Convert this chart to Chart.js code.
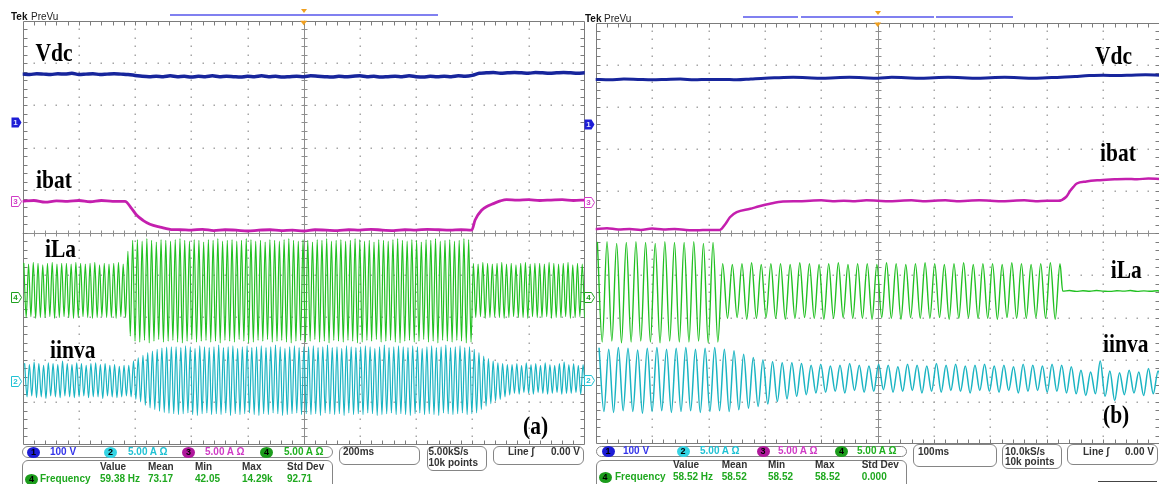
<!DOCTYPE html>
<html>
<head>
<meta charset="utf-8">
<title>Oscilloscope waveforms (a) and (b)</title>
<script src="https://cdn.jsdelivr.net/npm/chart.js@4.4.1/dist/chart.umd.min.js"></script>
<style>
html,body{margin:0;padding:0;background:#fff;}
body{position:relative;width:1159px;height:484px;overflow:hidden;font-family:"Liberation Sans",Arial,sans-serif;}
canvas{position:absolute;top:0;}
#ca{left:0;}
#cb{left:580px;}
.lab{position:absolute;white-space:nowrap;font-family:"Liberation Serif","Times New Roman",serif;font-weight:bold;font-size:21.5px;line-height:1;transform:scaleY(1.15);transform-origin:0 0;color:#000;}
.tek{position:absolute;font:bold 10px/1 "Liberation Sans",sans-serif;color:#111;}
.prevu{position:absolute;font:10px/1 "Liberation Sans",sans-serif;color:#222;}
.bar{position:absolute;height:1.5px;background:#8080f0;}
.box{position:absolute;border:1px solid #858585;border-radius:6px;box-sizing:border-box;}
.s{position:absolute;white-space:nowrap;font:bold 10px/12px "Liberation Sans",sans-serif;color:#333;}
.c{position:absolute;width:13px;height:11px;border-radius:50%;font:bold 9px/11px "Liberation Sans",sans-serif;text-align:center;color:#000;}
.tri{position:absolute;width:0;height:0;border-left:3px solid transparent;border-right:3px solid transparent;border-top:4px solid #f0a020;}
</style>
</head>
<body>
<canvas id="ca" width="600" height="484"></canvas>
<canvas id="cb" width="600" height="484"></canvas>

<!-- header (a) -->
<div class="tek" style="left:11px;top:11.5px">Tek</div>
<div class="prevu" style="left:31px;top:11.5px">PreVu</div>
<div class="bar" style="left:170px;top:14px;width:268px"></div>
<div class="tri" style="left:300.7px;top:9px"></div>
<!-- header (b) -->
<div class="tek" style="left:585px;top:13.5px">Tek</div>
<div class="prevu" style="left:604px;top:13.5px">PreVu</div>
<div class="bar" style="left:743px;top:16px;width:55px"></div>
<div class="bar" style="left:800.7px;top:16px;width:133.3px"></div>
<div class="bar" style="left:936px;top:16px;width:76.7px"></div>
<div class="tri" style="left:874.7px;top:11px"></div>

<!-- trace labels (a) -->
<div class="lab" style="left:35.5px;top:41px">Vdc</div>
<div class="lab" style="left:36px;top:167.5px">ibat</div>
<div class="lab" style="left:45px;top:236.5px">iLa</div>
<div class="lab" style="left:50px;top:337.5px">iinva</div>
<div class="lab" style="left:523px;top:413.5px">(a)</div>
<!-- trace labels (b) -->
<div class="lab" style="left:1095px;top:43.5px">Vdc</div>
<div class="lab" style="left:1100px;top:141px">ibat</div>
<div class="lab" style="left:1110.7px;top:257.5px">iLa</div>
<div class="lab" style="left:1103px;top:331.5px">iinva</div>
<div class="lab" style="left:1103px;top:403px">(b)</div>

<!-- status bar (a) -->
<div class="box" style="left:22px;top:446px;width:311px;height:12px;border-radius:7px"></div>
<div class="c" style="left:27px;top:446.5px;background:#1d1dd6">1</div>
<span class="s" style="left:50px;top:445.7px;color:#3434ea">100 V</span>
<div class="c" style="left:104px;top:446.5px;background:#35d4e4">2</div>
<span class="s" style="left:128px;top:445.7px;color:#20c2d4">5.00 A Ω</span>
<div class="c" style="left:182px;top:446.5px;background:#b0189c">3</div>
<span class="s" style="left:205px;top:445.7px;color:#d03cc6">5.00 A Ω</span>
<div class="c" style="left:260px;top:446.5px;background:#1c9c1c">4</div>
<span class="s" style="left:284px;top:445.7px;color:#20b020">5.00 A Ω</span>
<div class="box" style="left:22px;top:460px;width:311px;height:34px"></div>
<span class="s" style="left:100px;top:460.7px">Value</span>
<span class="s" style="left:148px;top:460.7px">Mean</span>
<span class="s" style="left:195px;top:460.7px">Min</span>
<span class="s" style="left:242px;top:460.7px">Max</span>
<span class="s" style="left:287px;top:460.7px">Std Dev</span>
<div class="c" style="left:25px;top:473.5px;background:#1c9c1c">4</div>
<span class="s" style="left:40px;top:473px;color:#1fa81f">Frequency</span>
<span class="s" style="left:100px;top:473px;color:#1fa81f">59.38 Hz</span>
<span class="s" style="left:148px;top:473px;color:#1fa81f">73.17</span>
<span class="s" style="left:195px;top:473px;color:#1fa81f">42.05</span>
<span class="s" style="left:242px;top:473px;color:#1fa81f">14.29k</span>
<span class="s" style="left:287px;top:473px;color:#1fa81f">92.71</span>
<div class="box" style="left:339px;top:446px;width:81px;height:19px"></div>
<span class="s" style="left:343px;top:445.7px">200ms</span>
<div class="box" style="left:426.5px;top:446px;width:60px;height:25px"></div>
<span class="s" style="left:428.5px;top:446px">5.00kS/s</span>
<span class="s" style="left:428.5px;top:457.3px">10k points</span>
<div class="box" style="left:492.5px;top:446px;width:91px;height:19px"></div>
<span class="s" style="left:508px;top:445.7px">Line</span>
<span class="s" style="left:531px;top:445.7px">ʃ</span>
<span class="s" style="left:551px;top:445.7px">0.00 V</span>

<!-- status bar (b) -->
<div class="box" style="left:596px;top:446px;width:311px;height:11px;border-radius:7px"></div>
<div class="c" style="left:601.5px;top:446px;background:#1d1dd6">1</div>
<span class="s" style="left:623px;top:445.2px;color:#3434ea">100 V</span>
<div class="c" style="left:676.5px;top:446px;background:#35d4e4">2</div>
<span class="s" style="left:700px;top:445.2px;color:#20c2d4">5.00 A Ω</span>
<div class="c" style="left:756.5px;top:446px;background:#b0189c">3</div>
<span class="s" style="left:778px;top:445.2px;color:#d03cc6">5.00 A Ω</span>
<div class="c" style="left:835px;top:446px;background:#1c9c1c">4</div>
<span class="s" style="left:857px;top:445.2px;color:#20b020">5.00 A Ω</span>
<div class="box" style="left:596px;top:459.5px;width:311px;height:34px"></div>
<span class="s" style="left:673px;top:459px">Value</span>
<span class="s" style="left:721.7px;top:459px">Mean</span>
<span class="s" style="left:768px;top:459px">Min</span>
<span class="s" style="left:815px;top:459px">Max</span>
<span class="s" style="left:861.7px;top:459px">Std Dev</span>
<div class="c" style="left:598.5px;top:471.8px;background:#1c9c1c">4</div>
<span class="s" style="left:615px;top:471.3px;color:#1fa81f">Frequency</span>
<span class="s" style="left:673px;top:471.3px;color:#1fa81f">58.52 Hz</span>
<span class="s" style="left:721.7px;top:471.3px;color:#1fa81f">58.52</span>
<span class="s" style="left:768px;top:471.3px;color:#1fa81f">58.52</span>
<span class="s" style="left:815px;top:471.3px;color:#1fa81f">58.52</span>
<span class="s" style="left:861.7px;top:471.3px;color:#1fa81f">0.000</span>
<div class="box" style="left:913px;top:444px;width:84px;height:23px"></div>
<span class="s" style="left:918px;top:445.7px">100ms</span>
<div class="box" style="left:1001.7px;top:444px;width:60px;height:25px"></div>
<span class="s" style="left:1005px;top:445.7px">10.0kS/s</span>
<span class="s" style="left:1005px;top:455.7px">10k points</span>
<div class="box" style="left:1066.7px;top:444px;width:91px;height:21px"></div>
<span class="s" style="left:1083px;top:445.7px">Line</span>
<span class="s" style="left:1106px;top:445.7px">ʃ</span>
<span class="s" style="left:1125px;top:445.7px">0.00 V</span>
<div style="position:absolute;left:1098px;top:481px;width:59px;height:1px;background:#444"></div>

<script>
// ================= DATA =================
// Time axes in ms, trigger at 0
const timeRangeA = [-1000, 1000];   // 200 ms/div
const timeRangeB = [-500, 500];     // 100 ms/div
// Frequency readouts (Hz)
const freqA = 59.38;
const freqB = 58.52;

// Channel settings: screen position (div from centre) and volts/amps per div
const chPos   = {vdc: 2.6, ibat: 0.74, iLa: -1.52, iinva: -3.49};
const chScale = {vdc: 100, ibat: 5, iLa: 5, iinva: 5};

// ---- panel (a) ----
// Vdc (V), one value every 25 ms from -1000 ms
const vdcA = [
  114,113,115,114,113,115,114,116,113,114,
  115,113,114,115,114,113,111,109,108,109,
  108,110,108,109,107,109,108,110,108,109,
  108,107,109,108,110,108,109,107,108,109,
  108,110,109,108,107,109,108,109,110,108,
  109,107,108,109,108,110,108,107,109,108,
  109,108,110,109,111,116,117,118,116,117,
  118,117,116,118,117,116,117,118,117,116,
  117
];
// ibat (A): [t ms, value]
const ibatA = [
  [-1000,0.0],[-960,0.1],[-920,-0.1],[-880,0.05],[-840,0.0],[-800,0.1],[-760,-0.05],[-720,0.1],[-680,0.0],
  [-636,0.0],[-612,-0.86],[-594,-1.65],[-572,-2.24],[-547,-2.7],[-511,-3.03],[-465,-3.34],
  [-440,-3.35],[-400,-3.4],[-360,-3.3],[-320,-3.45],[-280,-3.35],[-240,-3.4],[-200,-3.5],[-160,-3.4],
  [-120,-3.35],[-80,-3.45],[-40,-3.4],[0,-3.5],[40,-3.35],[80,-3.4],[120,-3.45],[160,-3.35],[200,-3.4],
  [240,-3.3],[280,-3.4],[320,-3.45],[360,-3.35],[400,-3.4],[440,-3.3],[480,-3.35],[520,-3.4],[560,-3.35],
  [598,-3.4],[610,-2.2],[633,-1.06],[655,-0.55],[675,-0.27],[700,0.05],[722,0.2],
  [760,0.15],[800,0.2],[840,0.1],[880,0.15],[920,0.2],[960,0.1],[1000,0.15]
];
// iLa (A): positive and negative peak of each cycle
const iLaA_hi = [
  4.0,3.9,4.1,4.0,3.8,4.0,4.1,3.9,4.0,4.0,
  3.9,4.1,4.0,3.9,4.0,4.1,3.8,4.0,3.9,4.0,
  4.1,3.9,5.4,6.7,6.8,6.6,6.9,6.7,6.5,6.8,
  6.7,6.6,6.8,6.9,6.7,6.6,6.8,6.7,6.5,6.8,
  6.7,6.9,6.6,6.7,6.8,6.6,6.7,6.9,6.8,6.6,
  6.7,6.5,6.8,6.7,6.6,6.8,6.9,6.7,6.6,6.8,
  6.7,6.5,6.8,6.7,6.9,6.6,6.7,6.8,6.6,6.7,
  6.9,6.8,6.6,6.7,6.5,6.8,6.7,6.6,6.8,6.9,
  6.7,6.6,6.8,6.7,6.5,6.8,6.7,6.9,6.6,6.7,
  6.8,6.6,6.7,6.9,6.8,4.0,3.9,4.1,4.0,3.9,
  4.0,4.1,3.9,4.0,3.8,4.0,4.1,3.9,4.0,4.0,
  3.9,4.1,4.0,3.9,4.0,4.1,3.8,4.0,3.9
];
const iLaA_lo = [
  -2.4,-2.3,-2.5,-2.4,-2.4,-2.3,-2.5,-2.4,-2.3,-2.4,
  -2.5,-2.4,-2.3,-2.4,-2.5,-2.4,-2.3,-2.4,-2.4,-2.5,
  -2.3,-2.4,-4.6,-5.2,-5.3,-5.1,-5.4,-5.2,-5.0,-5.3,
  -5.2,-5.1,-5.3,-5.4,-5.2,-5.0,-5.3,-5.2,-5.1,-5.3,
  -5.2,-5.4,-5.1,-5.2,-5.3,-5.0,-5.2,-5.4,-5.3,-5.1,
  -5.2,-5.0,-5.3,-5.2,-5.1,-5.3,-5.4,-5.2,-5.1,-5.3,
  -5.2,-5.0,-5.3,-5.2,-5.4,-5.1,-5.2,-5.3,-5.1,-5.2,
  -5.4,-5.3,-5.1,-5.2,-5.0,-5.3,-5.2,-5.1,-5.3,-5.4,
  -5.2,-5.1,-5.3,-5.2,-5.0,-5.3,-5.2,-5.4,-5.1,-5.2,
  -5.3,-5.1,-5.2,-5.4,-5.3,-2.4,-2.3,-2.5,-2.4,-2.3,
  -2.4,-2.5,-2.4,-2.3,-2.4,-2.4,-2.5,-2.3,-2.4,-2.4,
  -2.3,-2.5,-2.4,-2.4,-2.3,-2.5,-2.4,-2.3,-2.4
];
// iinva (A): positive and negative peak of each cycle
const iinvaA_hi = [
  2.0,1.9,2.2,2.0,1.8,2.1,2.0,1.9,2.3,2.0,
  1.9,2.1,2.0,1.8,2.0,2.1,1.9,2.0,1.8,1.9,
  1.7,1.8,1.8,2.3,2.7,3.0,3.3,3.5,3.7,3.85,
  3.95,4.0,4.0,3.9,4.1,4.0,3.8,4.1,4.0,3.9,
  4.0,4.2,3.9,4.0,4.1,3.8,4.0,4.1,3.9,4.0,
  4.1,3.9,4.0,4.2,4.0,3.8,4.0,4.1,3.9,4.0,
  4.0,4.1,3.9,4.0,4.2,3.9,4.0,3.8,4.1,4.0,
  3.9,4.0,4.1,4.0,3.8,4.0,4.2,3.9,4.0,4.1,
  4.0,3.9,4.1,4.0,3.8,4.0,4.1,3.9,4.0,4.2,
  3.9,4.0,4.1,3.9,4.0,3.7,3.3,2.9,2.6,2.3,
  2.1,2.0,1.9,1.9,2.0,1.8,2.1,1.9,2.0,1.8,
  2.1,1.9,1.8,2.0,2.2,1.9,2.0,1.8,1.9
];
const iinvaA_lo = [
  -1.9,-1.8,-2.0,-1.9,-2.1,-1.8,-1.9,-2.0,-1.8,-1.9,
  -2.0,-1.9,-1.8,-2.0,-1.9,-1.9,-2.1,-1.8,-1.9,-2.0,
  -1.9,-1.8,-1.9,-2.2,-2.5,-2.9,-3.2,-3.4,-3.6,-3.75,
  -3.85,-3.9,-4.0,-3.9,-3.8,-4.0,-4.1,-3.9,-3.8,-4.0,
  -3.9,-4.0,-3.8,-4.1,-3.9,-4.0,-3.9,-3.8,-4.0,-4.1,
  -3.9,-4.0,-3.8,-3.9,-4.1,-4.0,-3.9,-3.8,-4.0,-3.9,
  -4.0,-3.9,-4.1,-3.8,-3.9,-4.0,-3.9,-4.1,-3.8,-4.0,
  -3.9,-4.0,-3.8,-3.9,-4.1,-4.0,-3.9,-3.8,-4.0,-3.9,
  -4.0,-4.1,-3.9,-3.8,-4.0,-3.9,-4.0,-4.1,-3.8,-3.9,
  -4.0,-3.9,-3.8,-4.0,-3.9,-3.8,-3.4,-3.0,-2.7,-2.4,
  -2.2,-1.9,-1.7,-1.5,-1.6,-1.4,-1.5,-1.6,-1.4,-1.5,
  -1.6,-1.5,-1.4,-1.6,-1.5,-1.5,-1.4,-1.6,-1.5
];

// ---- panel (b) ----
// Vdc (V), one value every 25 ms from -500 ms
const vdcB = [
  105,104,106,105,104,105,106,104,105,105,104,106,
  108,109,110,109,108,109,110,109,108,110,109,108,109,110,109,108,109,110,109,108,109,
  110,112,114,115,114,115,116,115
];
// ibat (A): [t ms, value]
const ibatB = [
  [-500,-3.2],[-480,-3.1],[-460,-3.25],[-440,-3.2],[-420,-3.3],[-400,-3.15],[-380,-3.25],[-360,-3.2],
  [-340,-3.3],[-320,-3.35],[-300,-3.3],[-280,-3.3],
  [-270,-2.6],[-262,-1.8],[-250,-1.2],[-226,-0.8],[-210,-0.5],[-191,-0.2],[-168,0.06],
  [-140,0.1],[-120,0.15],[-100,0.2],[-80,0.1],[-60,0.15],[-40,0.1],[-20,0.2],[0,0.15],[20,0.1],[40,0.15],
  [60,0.2],[80,0.1],[100,0.15],[120,0.2],[140,0.1],[160,0.15],[180,0.2],[200,0.15],[220,0.1],[240,0.15],
  [260,0.2],[280,0.1],[300,0.15],[320,0.15],
  [334,0.6],[341,1.3],[347,1.8],[353,2.2],[370,2.45],[394,2.6],
  [420,2.7],[440,2.75],[460,2.7],[480,2.8],[500,2.75]
];
// iLa (A): cycle peaks, then flat after the inverter leg stops
const iLaB_hi = [
  6.5,6.6,6.4,6.5,6.6,6.5,6.4,6.6,6.5,6.5,
  6.6,6.4,6.5,4.0,3.9,4.0,4.1,3.9,4.0,4.0,
  3.9,4.1,4.0,3.9,4.0,4.1,3.9,4.0,4.0,3.9,
  4.1,4.0,3.9,4.0,4.1,4.0,3.9,4.0,4.1,3.9,
  4.0,4.0,3.9,4.1,4.0,3.9,4.0,4.1,4.0
];
const iLaB_lo = [
  -5.3,-5.2,-5.4,-5.3,-5.2,-5.3,-5.4,-5.2,-5.3,-5.3,
  -5.2,-5.4,-5.3,-2.5,-2.4,-2.6,-2.5,-2.4,-2.5,-2.6,
  -2.5,-2.4,-2.5,-2.6,-2.5,-2.4,-2.5,-2.5,-2.6,-2.4,
  -2.5,-2.6,-2.4,-2.5,-2.5,-2.4,-2.6,-2.5,-2.4,-2.5,
  -2.5,-2.6,-2.4,-2.5,-2.5,-2.4,-2.5,-2.6
];
const iLaB_flat = [
  [328,0.74],[340,0.8],[352,0.7],[364,0.78],[376,0.72],[388,0.8],[400,0.74],[412,0.7],
  [424,0.78],[436,0.74],[448,0.8],[460,0.7],[472,0.76],[484,0.72],[496,0.78],[500,0.74]
];
// iinva (A): cycle peaks
const iinvaB_hi = [
  3.8,3.7,3.9,3.8,3.6,3.8,3.9,3.7,3.8,3.9,
  3.7,3.8,3.9,3.7,3.5,3.1,2.7,2.4,2.2,2.1,
  2.1,2.0,1.8,1.9,1.7,1.8,2.0,1.8,1.7,1.9,
  1.8,1.6,1.9,1.8,1.7,2.0,1.8,1.9,1.7,1.8,
  1.9,1.7,1.8,1.6,1.9,1.8,1.7,1.9,1.8,1.6,
  1.2,1.0,2.3,1.1,0.9,1.2,1.0,1.4,1.1
];
const iinvaB_lo = [
  -3.7,-3.8,-3.6,-3.7,-3.9,-3.7,-3.6,-3.8,-3.7,-3.6,
  -3.8,-3.7,-3.6,-3.7,-3.5,-3.3,-3.1,-2.8,-2.5,-2.2,
  -1.9,-1.7,-1.5,-1.4,-1.3,-1.5,-1.2,-1.4,-1.3,-1.1,
  -1.4,-1.3,-1.2,-1.5,-1.3,-1.4,-1.2,-1.3,-1.5,-1.2,
  -1.3,-1.4,-1.2,-1.5,-1.3,-1.2,-1.4,-1.3,-1.5,-1.6,
  -1.8,-1.6,-1.9,-2.4,-1.7,-1.5,-1.8,-1.6,-1.7
];

// ================= helpers (map values to screen divisions) =================
const toDiv = (ch, v) => chPos[ch] + v / chScale[ch];
function sampled(ch, t0, dt, vals) { return vals.map((v, i) => ({x: t0 + i * dt, y: toDiv(ch, v)})); }
function pairs(ch, arr) { return arr.map(([t, v]) => ({x: t, y: toDiv(ch, v)})); }
function wave(ch, t0, freq, hi, lo, tail) {
  const T = 1000 / freq, pts = [];
  for (let k = 0; k < hi.length; k++) {
    pts.push({x: t0 + k * T, y: toDiv(ch, hi[k])});
    if (k < lo.length) pts.push({x: t0 + k * T + T / 2, y: toDiv(ch, lo[k])});
  }
  return tail ? pts.concat(pairs(ch, tail)) : pts;
}

const COL = {vdc: '#17259c', ibat: '#c41fae', iLa: '#22c022', iinva: '#1ab4c2'};

// ================= plugins =================
const scopeGrid = {
  id: 'scopeGrid',
  beforeDatasetsDraw(chart) {
    const {ctx, chartArea: a, scales: {x, y}} = chart;
    const xv = i => x.min + i * (x.max - x.min) / 10;
    ctx.save();
    // dotted division lines
    ctx.fillStyle = '#a6a6a6';
    for (let i = 1; i < 10; i++) {
      if (i === 5) continue;
      const px = Math.round(x.getPixelForValue(xv(i)));
      for (let s = 1; s < 50; s++) {
        const py = Math.round(y.getPixelForValue(-5 + s / 5));
        ctx.fillRect(px - 0.5, py - 0.5, 1.5, 1.5);
      }
      const py2 = Math.round(y.getPixelForValue(-5 + i));
      for (let s = 1; s < 50; s++) {
        const px2 = Math.round(x.getPixelForValue(xv(s / 5)));
        ctx.fillRect(px2 - 0.5, py2 - 0.5, 1.5, 1.5);
      }
    }
    // centre cross with ticks
    ctx.strokeStyle = '#8e8e8e';
    ctx.lineWidth = 1;
    const cx = Math.round(x.getPixelForValue(xv(5))) + 0.5;
    const cy = Math.round(y.getPixelForValue(0)) + 0.5;
    ctx.beginPath();
    ctx.moveTo(cx, a.top); ctx.lineTo(cx, a.bottom);
    ctx.moveTo(a.left, cy); ctx.lineTo(a.right, cy);
    for (let s = 1; s < 50; s++) {
      const py = Math.round(y.getPixelForValue(-5 + s / 5)) + 0.5;
      ctx.moveTo(cx - 3, py); ctx.lineTo(cx + 3, py);
      const px = Math.round(x.getPixelForValue(xv(s / 5))) + 0.5;
      ctx.moveTo(px, cy - 3); ctx.lineTo(px, cy + 3);
    }
    ctx.stroke();
    // frame with inward ticks
    ctx.strokeStyle = '#7c7c7c';
    const L = Math.round(a.left) + 0.5, R = Math.round(a.right) - 0.5;
    const Tp = Math.round(a.top) + 0.5, B = Math.round(a.bottom) - 0.5;
    ctx.beginPath();
    ctx.rect(L, Tp, R - L, B - Tp);
    for (let s = 1; s < 50; s++) {
      const py = Math.round(y.getPixelForValue(-5 + s / 5)) + 0.5;
      ctx.moveTo(L, py); ctx.lineTo(L + 4, py);
      ctx.moveTo(R, py); ctx.lineTo(R - 4, py);
      const px = Math.round(x.getPixelForValue(xv(s / 5))) + 0.5;
      ctx.moveTo(px, Tp); ctx.lineTo(px, Tp + 4);
      ctx.moveTo(px, B); ctx.lineTo(px, B - 4);
    }
    ctx.stroke();
    ctx.restore();
  },
  afterDatasetsDraw(chart) {
    const {ctx, chartArea: a, scales: {x, y}} = chart;
    ctx.save();
    const marks = [
      {ch: 'vdc', label: '1', color: '#1d1dd6', filled: true},
      {ch: 'ibat', label: '3', color: '#d03cc6'},
      {ch: 'iLa', label: '4', color: '#20a020'},
      {ch: 'iinva', label: '2', color: '#20c2d4'}
    ];
    ctx.font = 'bold 8px "Liberation Sans", sans-serif';
    ctx.textAlign = 'center';
    ctx.textBaseline = 'middle';
    marks.forEach(m => {
      const py = Math.round(y.getPixelForValue(chPos[m.ch])) + 0.5;
      const x0 = Math.round(a.left) - 11.5, x1 = Math.round(a.left) - 1.5;
      ctx.beginPath();
      ctx.moveTo(x0, py - 5); ctx.lineTo(x1 - 3, py - 5); ctx.lineTo(x1, py);
      ctx.lineTo(x1 - 3, py + 5); ctx.lineTo(x0, py + 5); ctx.closePath();
      if (m.filled) {
        ctx.fillStyle = m.color; ctx.fill();
        ctx.fillStyle = '#dfe4ff';
      } else {
        ctx.fillStyle = '#fff'; ctx.fill();
        ctx.strokeStyle = m.color; ctx.lineWidth = 1; ctx.stroke();
        ctx.fillStyle = m.color;
      }
      ctx.fillText(m.label, x0 + 4, py + 0.5);
    });
    // trigger position marker
    const tx = x.getPixelForValue(0);
    ctx.fillStyle = '#f0a020';
    ctx.beginPath();
    ctx.moveTo(tx - 3.5, a.top); ctx.lineTo(tx + 3.5, a.top); ctx.lineTo(tx, a.top + 4.5);
    ctx.closePath(); ctx.fill();
    ctx.restore();
  }
};

function makePanel(id, range, pad, datasets) {
  return new Chart(document.getElementById(id), {
    type: 'line',
    data: {datasets},
    options: {
      responsive: false,
      animation: false,
      events: [],
      layout: {padding: pad},
      parsing: true,
      elements: {
        point: {radius: 0},
        line: {cubicInterpolationMode: 'monotone', fill: false, borderCapStyle: 'round', borderJoinStyle: 'round'}
      },
      scales: {
        x: {type: 'linear', min: range[0], max: range[1], display: false},
        y: {type: 'linear', min: -5, max: 5, display: false}
      },
      plugins: {legend: {display: false}, tooltip: {enabled: false}}
    },
    plugins: [scopeGrid]
  });
}

makePanel('ca', timeRangeA, {left: 22.7, top: 20.7, right: 15.3, bottom: 39.3}, [
  {data: sampled('vdc', -1000, 25, vdcA), borderColor: COL.vdc, borderWidth: 3.5},
  {data: pairs('ibat', ibatA), borderColor: COL.ibat, borderWidth: 2.8},
  {data: wave('iLa', -996, freqA, iLaA_hi, iLaA_lo), borderColor: COL.iLa, borderWidth: 1.2},
  {data: wave('iinva', -993, freqA, iinvaA_hi, iinvaA_lo), borderColor: COL.iinva, borderWidth: 1.2}
]);

makePanel('cb', timeRangeB, {left: 15.7, top: 22.5, right: 20.3, bottom: 40}, [
  {data: sampled('vdc', -500, 25, vdcB), borderColor: COL.vdc, borderWidth: 3},
  {data: pairs('ibat', ibatB), borderColor: COL.ibat, borderWidth: 2.5},
  {data: wave('iLa', -497, freqB, iLaB_hi, iLaB_lo, iLaB_flat), borderColor: COL.iLa, borderWidth: 1.4},
  {data: wave('iinva', -494, freqB, iinvaB_hi, iinvaB_lo), borderColor: COL.iinva, borderWidth: 1.5}
]);
</script>
</body>
</html>
